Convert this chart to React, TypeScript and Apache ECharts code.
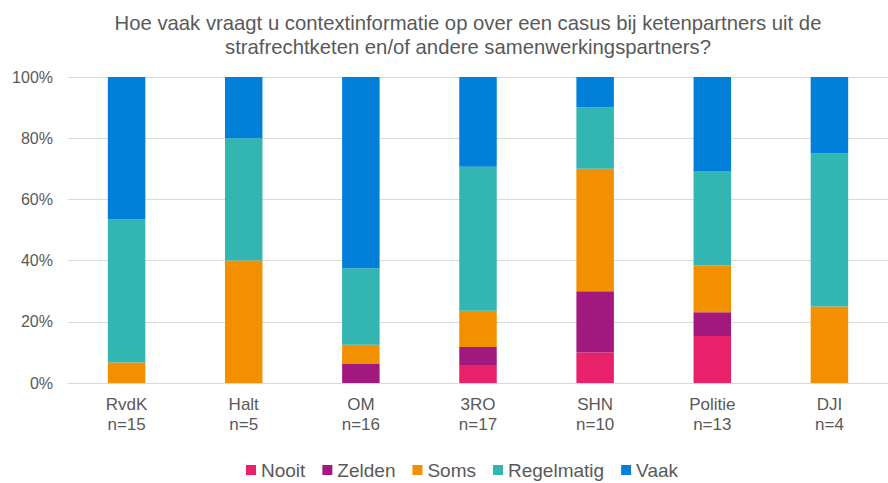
import React, { useEffect, useRef } from "react";
import * as echarts from "echarts";

const titleText =
  "Hoe vaak vraagt u contextinformatie op over een casus bij ketenpartners uit de\nstrafrechtketen en/of andere samenwerkingspartners?";
const categories = ["RvdK\nn=15", "Halt\nn=5", "OM\nn=16", "3RO\nn=17", "SHN\nn=10", "Politie\nn=13", "DJI\nn=4"];
const nooit = [0, 0, 0, 5.9, 10, 15.4, 0];
const zelden = [0, 0, 6.25, 5.9, 20, 7.7, 0];
const soms = [6.7, 40, 6.25, 11.8, 40, 15.4, 25];
const regelmatig = [46.7, 40, 25, 47.1, 20, 30.8, 50];
const vaak = [46.6, 20, 62.5, 29.3, 10, 30.7, 25];
const yTicks = [0, 20, 40, 60, 80, 100];

const seriesDefs = [
  { name: "Nooit", data: nooit, color: "#E8216A" },
  { name: "Zelden", data: zelden, color: "#A1197E" },
  { name: "Soms", data: soms, color: "#F39000" },
  { name: "Regelmatig", data: regelmatig, color: "#33B5B2" },
  { name: "Vaak", data: vaak, color: "#0080D8" },
];

export default function App() {
  const ref = useRef<HTMLDivElement>(null);
  useEffect(() => {
    if (!ref.current) return;
    const chart = echarts.init(ref.current, null, { renderer: "svg" });
    const font = "'Liberation Sans', Arial, sans-serif";
    chart.setOption({
      animation: false,
      backgroundColor: "#ffffff",
      textStyle: { fontFamily: font },
      title: {
        text: titleText,
        left: 463,
        textAlign: "center",
        top: 6,
        textStyle: { fontSize: 20.3, fontWeight: "normal", color: "#595959", lineHeight: 24, fontFamily: font },
      },
      legend: {
        left: 246,
        top: 459,
        padding: 0,
        itemWidth: 10,
        itemHeight: 10,
        itemGap: 17,
        icon: "rect",
        textStyle: { fontSize: 19, color: "#595959", fontFamily: font, lineHeight: 22 },
        data: seriesDefs.map((s) => s.name),
      },
      grid: { left: 68, right: -13, top: 77, bottom: 100, containLabel: false },
      xAxis: {
        type: "category",
        data: categories,
        axisLine: { show: true, lineStyle: { color: "#d9d9d9" } },
        axisTick: { show: false },
        axisLabel: { fontSize: 17, color: "#595959", lineHeight: 20, margin: 11, fontFamily: font },
      },
      yAxis: {
        type: "value",
        min: yTicks[0],
        max: yTicks[yTicks.length - 1],
        interval: 20,
        axisLine: { show: false },
        axisTick: { show: false },
        splitLine: { lineStyle: { color: "#d9d9d9", width: 1 } },
        axisLabel: { fontSize: 16, color: "#595959", margin: 15, formatter: "{value}%", fontFamily: font },
      },
      series: seriesDefs.map((s) => ({
        name: s.name,
        type: "bar",
        stack: "total",
        barWidth: 37.5,
        data: s.data,
        itemStyle: { color: s.color },
      })),
    });
    return () => chart.dispose();
  }, []);
  return (
    <div
      ref={ref}
      style={{ position: "fixed", left: 0, top: 0, width: 888, height: 483 }}
    />
  );
}
